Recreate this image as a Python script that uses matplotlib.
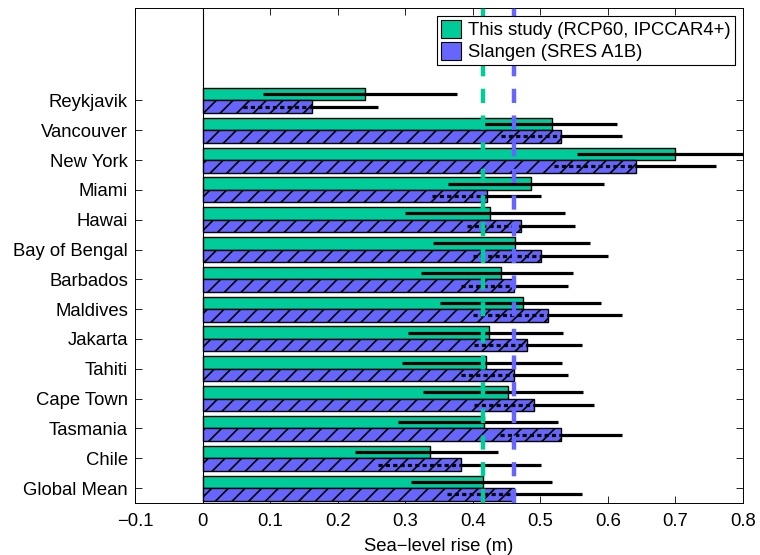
'''
Regional sea-level rise: this study versus Slangen, with uncertainty ranges.
'''

# Imports

import numpy as np
import matplotlib
matplotlib.use("Agg")
import matplotlib.pyplot as plt
from matplotlib.patches import Patch

# Constants

sites = ["Reykjavik", "Vancouver", "New York", "Miami", "Hawai", "Bay of Bengal",
         "Barbados", "Maldives", "Jakarta", "Tahiti", "Cape Town", "Tasmania",
         "Chile", "Global Mean"]

# This study (RCP60, IPCCAR4+)
study_mean = [0.240, 0.517, 0.700, 0.486, 0.425, 0.462, 0.442,
              0.474, 0.424, 0.420, 0.452, 0.416, 0.337, 0.415]
study_low = [0.089, 0.413, 0.554, 0.363, 0.299, 0.341, 0.324,
             0.352, 0.304, 0.296, 0.327, 0.290, 0.225, 0.309]
study_high = [0.376, 0.614, 0.850, 0.595, 0.537, 0.573, 0.548,
              0.590, 0.533, 0.532, 0.563, 0.526, 0.438, 0.518]

# Slangen (SRES A1B)
slangen_mean = [0.162, 0.531, 0.641, 0.421, 0.471, 0.501, 0.461,
                0.511, 0.480, 0.461, 0.491, 0.531, 0.382, 0.461]
slangen_low = [0.060, 0.442, 0.521, 0.339, 0.391, 0.400, 0.382,
               0.401, 0.402, 0.382, 0.402, 0.441, 0.260, 0.362]
slangen_high = [0.260, 0.621, 0.760, 0.501, 0.551, 0.600, 0.541,
                0.621, 0.561, 0.541, 0.580, 0.621, 0.501, 0.561]

xticks = [-0.1, 0, 0.1, 0.2, 0.3, 0.4, 0.5, 0.6, 0.7, 0.8]

GREEN = "#00cc99"
BLUE = "#6666ff"
FONTSIZE = 13.3

# Functions

def plot_sea_level():
    plt.rcParams["font.family"] = ["Liberation Sans", "DejaVu Sans"]
    plt.rcParams["hatch.linewidth"] = 1.2

    fig = plt.figure(figsize=(7.6, 5.55), dpi=100)
    ax = fig.add_axes([0.1776, 0.0937, 0.80, 0.892])

    n = len(sites)
    y = np.arange(n, 0, -1)  # Reykjavik at top, Global Mean at 1
    h = 0.42
    off = 0.21

    ax.barh(y + off, study_mean, height=h, color=GREEN, edgecolor="black",
            linewidth=1, zorder=2)
    ax.barh(y - off, slangen_mean, height=h, color=BLUE, edgecolor="black",
            linewidth=1, hatch="//", zorder=2)

    # Uncertainty ranges
    for i in range(n):
        ax.plot([study_low[i], study_high[i]], [y[i] + off] * 2, color="black",
                lw=2.3, solid_capstyle="butt", zorder=3)
        # dashed where the range runs through the hatched bar
        ax.plot([slangen_low[i], slangen_mean[i]], [y[i] - off] * 2, color="black",
                lw=2.3, dashes=(1.3, 1.0), dash_capstyle="butt", zorder=3)
        ax.plot([slangen_mean[i], slangen_high[i]], [y[i] - off] * 2, color="black",
                lw=2.3, solid_capstyle="butt", zorder=3)

    ax.axvline(0, color="black", lw=0.8, zorder=1)

    # Global mean reference lines
    ax.axvline(study_mean[-1], color=GREEN, lw=3.2, dashes=(3.2, 2.8), zorder=4)
    ax.axvline(slangen_mean[-1], color=BLUE, lw=3.2, dashes=(3.2, 2.8), zorder=4)

    ax.set_xlim(-0.1, 0.8)
    ax.set_ylim(0.5, 17.1)
    ax.set_xticks(xticks)
    ax.set_xticklabels([("\u2212" if v < 0 else "") + ("0" if v == 0 else f"{abs(v):g}")
                        for v in xticks])
    ax.set_yticks(y)
    ax.set_yticklabels(sites)
    ax.tick_params(direction="in", top=True, right=True, labelsize=FONTSIZE,
                   length=5, width=0.6)
    ax.tick_params(axis="x", pad=7)
    ax.tick_params(axis="y", pad=5)
    for s in ax.spines.values():
        s.set_linewidth(0.7)
    ax.set_xlabel("Sea\u2212level rise (m)", fontsize=FONTSIZE, labelpad=6)

    handles = [Patch(facecolor=GREEN, edgecolor="black", lw=0.8),
               Patch(facecolor=BLUE, edgecolor="black", lw=0.8)]
    leg = ax.legend(handles, ["This study (RCP60, IPCCAR4+)", "Slangen (SRES A1B)"],
                    loc="upper right", fontsize=FONTSIZE, fancybox=False,
                    framealpha=1, edgecolor="black", borderpad=0.2,
                    labelspacing=0.15, handlelength=1.1, handleheight=1.1,
                    handletextpad=0.4, borderaxespad=0.45)
    leg.get_frame().set_linewidth(0.8)
    leg.set_zorder(5)

    fig.savefig("out.png", dpi=100)


if __name__ == "__main__":
    plot_sea_level()
